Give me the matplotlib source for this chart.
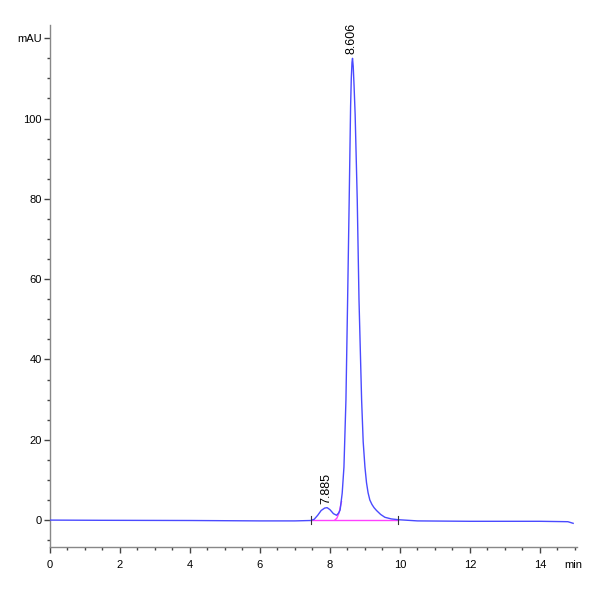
import matplotlib
matplotlib.use('Agg')
import matplotlib.pyplot as plt
from matplotlib.ticker import MultipleLocator, FixedLocator

plt.rcParams['font.family'] = ['Liberation Sans', 'DejaVu Sans']

# Señal del cromatograma (min, mAU)
tiempo = [0.0, 1.4, 4.0, 6.0, 7.0, 7.45, 7.55, 7.65, 7.75, 7.85, 7.92, 8.0, 8.1, 8.19,
          8.25, 8.29, 8.35, 8.40, 8.457, 8.505, 8.55, 8.59, 8.61, 8.63, 8.645, 8.665,
          8.69, 8.72, 8.78, 8.83, 8.905, 8.95, 9.0, 9.045, 9.09, 9.14, 9.2, 9.26,
          9.33, 9.45, 9.57, 9.75, 9.95, 10.5, 12.0, 13.0, 14.0, 14.8, 14.95]
senal = [0.0, -0.05, -0.1, -0.2, -0.2, -0.1, 0.2, 1.2, 2.4, 3.0, 3.1, 2.6, 1.6, 1.2,
         1.8, 2.5, 6.7, 13.2, 29.9, 54.9, 79.8, 103.0, 110.0, 114.0, 115.0, 113.0,
         108.0, 101.0, 79.8, 54.9, 29.9, 19.5, 13.2, 9.3, 6.8, 5.0, 3.9, 3.1,
         2.4, 1.4, 0.7, 0.3, 0.1, -0.2, -0.3, -0.3, -0.3, -0.4, -0.8]

# Línea base de integración y tangente (magenta)
base_t = [7.47, 9.94]
base_y = [0.0, 0.0]
tangente_t = [8.14, 8.20, 8.26, 8.33]
tangente_y = [0.0, 0.5, 1.8, 4.6]

# Etiquetas de picos
picos_t = [7.885, 8.606]
picos_y = [3.1, 115.0]
picos_txt = ['7.885', '8.606']

fig = plt.figure(figsize=(6, 6), dpi=100)
ax = fig.add_axes([50 / 600, 1 - 547 / 600, 527 / 600, 522 / 600])

ax.plot(base_t, base_y, color='#ff40ff', linewidth=1.0, zorder=2)
ax.plot(tangente_t, tangente_y, color='#ff40ff', linewidth=1.0, zorder=2)
ax.plot(tiempo, senal, color='#4a4aff', linewidth=1.0, zorder=3,
        solid_joinstyle='round')

# marcas de inicio y fin de integración
for t in base_t:
    ax.plot([t, t], [-0.9, 0.9], color='#333333', linewidth=0.8, zorder=4)

for t, y, txt in zip(picos_t, picos_y, picos_txt):
    ax.text(t, y + 1.0, txt, rotation=90, ha='center', va='bottom',
            fontsize=9, color='black')

ax.set_xlim(0, 15.06)
ax.set_ylim(-6.7, 123.3)

ax.spines['top'].set_visible(False)
ax.spines['right'].set_visible(False)
for s in ['left', 'bottom']:
    ax.spines[s].set_color('#888888')
    ax.spines[s].set_linewidth(1.0)

ax.xaxis.set_major_locator(FixedLocator([0, 2, 4, 6, 8, 10, 12, 14]))
ax.xaxis.set_minor_locator(MultipleLocator(0.5))
ax.yaxis.set_major_locator(FixedLocator([0, 20, 40, 60, 80, 100, 120]))
ax.set_yticklabels(['0', '20', '40', '60', '80', '100', 'mAU'])
ax.yaxis.set_minor_locator(MultipleLocator(5))

ax.tick_params(axis='both', which='major', length=4, width=1, color='#444444',
               labelsize=8, pad=2)
ax.tick_params(axis='both', which='minor', length=2.5, width=1, color='#444444')
ax.tick_params(axis='x', which='major', pad=5)

# unidad del eje x, sin marca de tick
ax.annotate('min', xy=(14.95, 0), xycoords=('data', 'axes fraction'),
            xytext=(0, -9), textcoords='offset points', ha='center', va='top',
            fontsize=8, color='black')

fig.savefig('out.png', dpi=100)
